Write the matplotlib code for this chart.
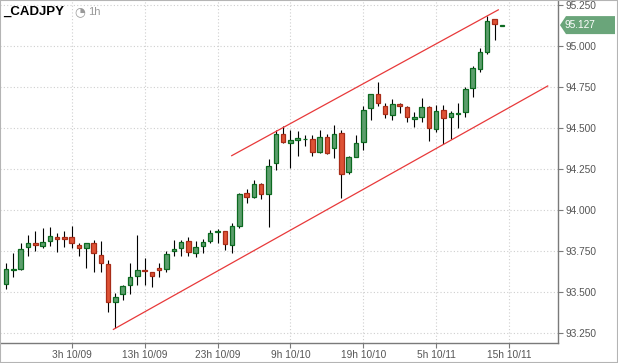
import numpy as np
import matplotlib
matplotlib.use("Agg")
from matplotlib import pyplot as plt
from matplotlib.patches import Polygon, Rectangle
from matplotlib.transforms import IdentityTransform, blended_transform_factory

plt.rcParams['font.family'] = ['Liberation Sans', 'DejaVu Sans']

# hourly CADJPY candles, 18h 10/08 .. 14h 10/11
opens = [93.547, 93.636, 93.640, 93.772, 93.799, 93.783, 93.813, 93.835, 93.835, 93.833,
         93.785, 93.766, 93.797, 93.724, 93.669, 93.437, 93.486, 93.541, 93.600, 93.634,
         93.620, 93.644, 93.642, 93.748, 93.766, 93.809, 93.736, 93.778, 93.811, 93.864,
         93.870, 93.785, 93.905, 94.102, 94.082, 94.157, 94.100, 94.285, 94.464, 94.407,
         94.425, 94.431, 94.431, 94.356, 94.443, 94.376, 94.468, 94.230, 94.325, 94.417,
         94.620, 94.705, 94.636, 94.579, 94.644, 94.630, 94.557, 94.569, 94.630, 94.494,
         94.608, 94.569, 94.585, 94.599, 94.741, 94.857, 94.961, 95.162, 95.122]
highs = [93.679, 93.736, 93.797, 93.848, 93.872, 93.888, 93.898, 93.858, 93.872, 93.902,
         93.797, 93.800, 93.817, 93.811, 93.695, 93.496, 93.543, 93.675, 93.848, 93.705,
         93.624, 93.675, 93.750, 93.817, 93.817, 93.835, 93.811, 93.823, 93.878, 93.882,
         93.874, 93.920, 94.104, 94.128, 94.183, 94.163, 94.311, 94.488, 94.512, 94.488,
         94.482, 94.458, 94.458, 94.488, 94.464, 94.519, 94.488, 94.329, 94.457, 94.634,
         94.710, 94.778, 94.650, 94.677, 94.650, 94.634, 94.599, 94.681, 94.634, 94.640,
         94.640, 94.604, 94.654, 94.748, 94.878, 94.985, 95.182, 95.162, 95.127]
lows = [93.516, 93.593, 93.634, 93.719, 93.752, 93.766, 93.782, 93.742, 93.776, 93.766,
        93.721, 93.648, 93.624, 93.624, 93.380, 93.280, 93.451, 93.488, 93.543, 93.543,
        93.529, 93.594, 93.620, 93.722, 93.722, 93.722, 93.716, 93.736, 93.799, 93.801,
        93.756, 93.736, 93.888, 94.045, 94.071, 94.067, 93.899, 94.244, 94.407, 94.258,
        94.332, 94.387, 94.332, 94.350, 94.340, 94.315, 94.071, 94.219, 94.321, 94.366,
        94.549, 94.636, 94.563, 94.549, 94.589, 94.538, 94.504, 94.538, 94.423, 94.473,
        94.402, 94.433, 94.498, 94.569, 94.691, 94.843, 94.951, 95.036, 95.122]
closes = [93.638, 93.640, 93.760, 93.797, 93.789, 93.803, 93.839, 93.825, 93.825, 93.801,
          93.766, 93.797, 93.736, 93.679, 93.437, 93.467, 93.535, 93.594, 93.634, 93.626,
          93.600, 93.634, 93.730, 93.760, 93.805, 93.742, 93.772, 93.803, 93.860, 93.872,
          93.791, 93.900, 94.098, 94.082, 94.157, 94.100, 94.267, 94.462, 94.413, 94.427,
          94.439, 94.435, 94.356, 94.443, 94.346, 94.464, 94.218, 94.321, 94.406, 94.610,
          94.705, 94.650, 94.583, 94.644, 94.634, 94.565, 94.565, 94.630, 94.498, 94.604,
          94.563, 94.589, 94.590, 94.735, 94.863, 94.961, 95.152, 95.134, 95.127]

# channel lines (candle index, price)
upper_x = [30.95, 67.52]
upper_y = [94.331, 95.220]
lower_x = [14.72, 74.3]
lower_y = [93.272, 94.756]

tick_pos = [9, 19, 29, 39, 49, 59, 69]
tick_labels = ['3h 10/09', '13h 10/09', '23h 10/09', '9h 10/10',
               '19h 10/10', '5h 10/11', '15h 10/11']
price_ticks = np.arange(93.25, 95.26, 0.25)

W, H = 618, 363
fig = plt.figure(figsize=(W / 100, H / 100), dpi=100)
fig.patch.set_facecolor('white')
ax = fig.add_axes([0, 1 - 343 / H, 558 / W, 343 / H])
ax.set_facecolor('white')

o = np.array(opens); c = np.array(closes)
x = np.arange(len(opens))
up = c >= o
ax.vlines(x, lows, highs, color='black', lw=0.8, zorder=2)
bottoms = np.minimum(o, c)
heights = np.maximum(np.abs(c - o), 0.004)
ax.bar(x[up], heights[up], bottom=bottoms[up], width=0.62,
       color='#5c9e6c', edgecolor='#0c6a20', linewidth=0.9, zorder=3)
ax.bar(x[~up], heights[~up], bottom=bottoms[~up], width=0.62,
       color='#de5235', edgecolor='#a82c18', linewidth=0.9, zorder=3)

ax.plot(upper_x, upper_y, color='#e8393a', lw=0.9, zorder=4)
ax.plot(lower_x, lower_y, color='#e8393a', lw=0.9, zorder=4)

ax.set_xlim(-0.837, 75.71)
ax.set_ylim(93.189, 95.280)

ax.yaxis.tick_right()
ax.set_yticks(price_ticks)
ax.set_yticklabels([f'{v:.3f}' for v in price_ticks])
ax.set_xticks(tick_pos)
ax.set_xticklabels(tick_labels)
ax.tick_params(axis='both', colors='#7a7a7a', labelcolor='#555555',
               labelsize=7.3, length=3.5, width=0.8, direction='out')
ax.tick_params(axis='y', pad=2)
ax.tick_params(axis='x', pad=1.5)
ax.grid(True, color='#cfcfcf', linestyle=(0, (1, 2)), lw=0.8, zorder=0)
ax.set_axisbelow(True)
for s in ['top', 'left']:
    ax.spines[s].set_visible(False)
for s in ['right', 'bottom']:
    ax.spines[s].set_color('#7a7a7a')
    ax.spines[s].set_linewidth(1)

# last price tag
fig.canvas.draw()
trans = blended_transform_factory(ax.transAxes, ax.transData)
px, py = trans.transform((1, closes[-1]))
tag = Polygon([(px + 2, py), (px + 8, py + 9), (px + 57, py + 9),
               (px + 57, py - 9), (px + 8, py - 9)], closed=True,
              transform=IdentityTransform(), facecolor='#6aa57a',
              edgecolor='none', clip_on=False, zorder=-1)
fig.add_artist(tag)
ax.annotate(f'{closes[-1]:.3f}', xy=(1, closes[-1]), xycoords=trans,
            xytext=(4.5, 0), textcoords='offset points', ha='left',
            va='center', color='white', fontsize=7.3, annotation_clip=False,
            zorder=10)

# header
fig.text(3 / W, 1 - 15 / H, '_CADJPY', fontsize=9.5, fontweight='bold',
         color='black', va='baseline')
fig.text(74 / W, 1 - 15 / H, '\u25d4', fontsize=9, color='#999999',
         va='baseline', family=['DejaVu Sans'])
fig.text(88 / W, 1 - 15 / H, '1h', fontsize=8, color='#999999', va='baseline')

fig.add_artist(Rectangle((0, 0), 1, 1, transform=fig.transFigure, fill=False,
                         edgecolor='#b4b4b4', lw=1.5, clip_on=False))

fig.savefig('out.png', dpi=100)
